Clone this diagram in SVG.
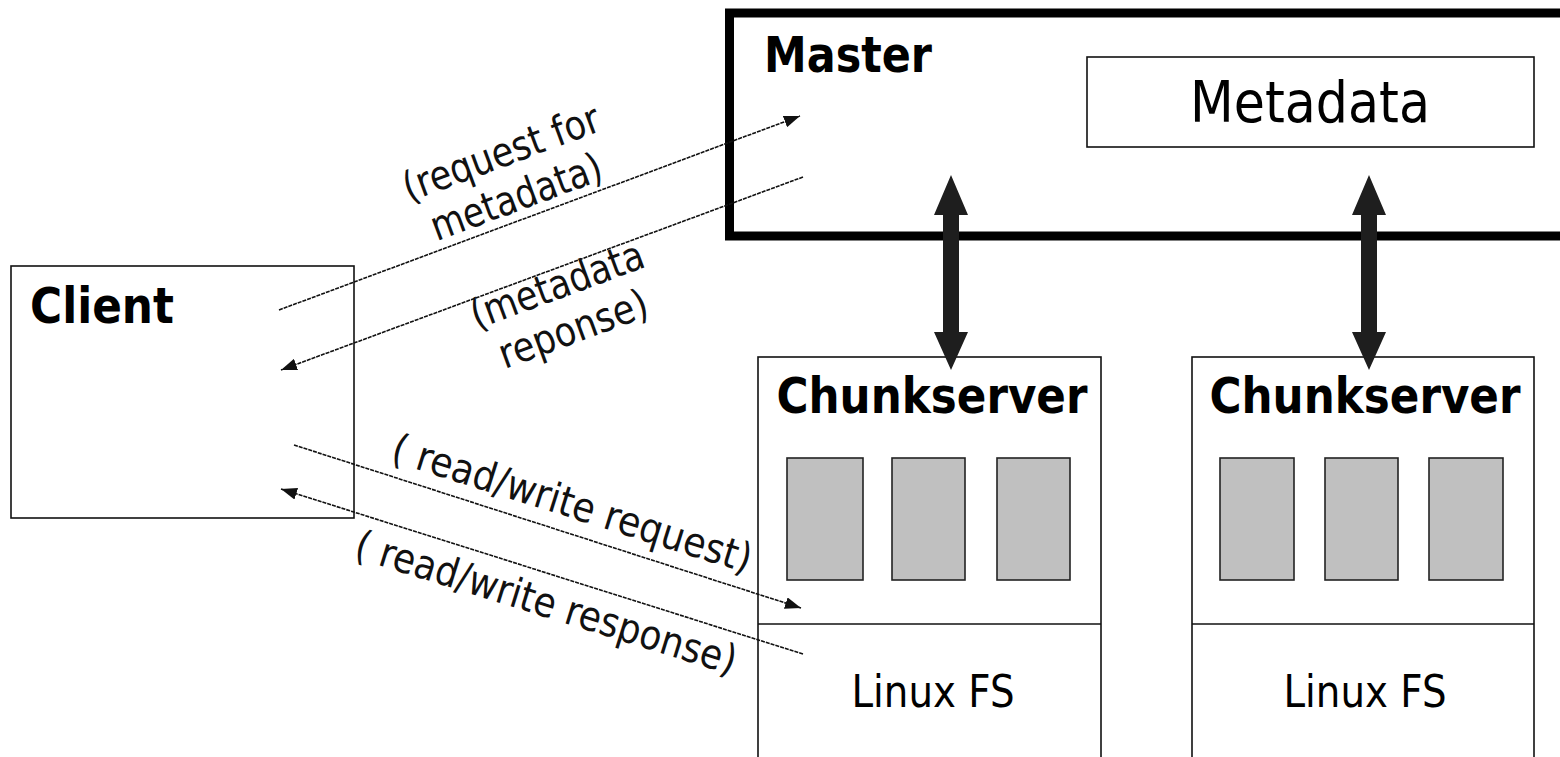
<svg xmlns="http://www.w3.org/2000/svg" width="1560" height="757" viewBox="0 0 1560 757">
  <style>
    .box { fill: #ffffff; stroke: #111111; stroke-width: 1.6; }
    .chunk { fill: #c0c0c0; stroke: #222222; stroke-width: 1.6; }
    .bold { font-family: "DejaVu Sans", "Liberation Sans", sans-serif; font-weight: bold; font-size: 50px; fill: #000000; }
    .reg { font-family: "DejaVu Sans", "Liberation Sans", sans-serif; fill: #000000; }
    .lbl { font-family: "DejaVu Sans", "Liberation Sans", sans-serif; font-size: 41px; fill: #111111; text-anchor: middle; }
    .thin { stroke: #111111; stroke-width: 1.6; stroke-dasharray: 4 1; fill: none; marker-end: url(#ah); }
    .thick { fill: #1e1e1e; stroke: none; }
  </style>
  <defs>
    <marker id="ah" markerUnits="userSpaceOnUse" markerWidth="18" markerHeight="12" refX="16" refY="6" orient="auto">
      <path d="M0,0 L16,6 L0,12 Z" fill="#111111"/>
    </marker>
  </defs>
  <rect width="1560" height="757" fill="#ffffff"/>

  <g id="client">
    <rect class="box" x="11" y="266" width="343" height="252"/>
    <text class="bold" x="30" y="323" textLength="144" lengthAdjust="spacingAndGlyphs">Client</text>
  </g>

  <g id="master">
    <rect x="729.5" y="13" width="850" height="223" fill="#ffffff" stroke="#000000" stroke-width="9"/>
    <text class="bold" x="764" y="72" textLength="168" lengthAdjust="spacingAndGlyphs">Master</text>
  </g>

  <g id="metadata">
    <rect class="box" x="1087" y="57" width="447" height="90"/>
    <text class="reg" x="1310" y="122" font-size="57" text-anchor="middle" textLength="240" lengthAdjust="spacingAndGlyphs">Metadata</text>
  </g>

  <g id="chunkserver1">
    <rect class="box" x="758" y="357" width="343" height="420"/>
    <line x1="758" y1="624" x2="1101" y2="624" stroke="#111111" stroke-width="1.6"/>
    <text class="bold" x="932" y="413" font-size="47" text-anchor="middle" textLength="311" lengthAdjust="spacingAndGlyphs">Chunkserver</text>
    <rect class="chunk" x="787" y="458" width="76" height="122"/>
    <rect class="chunk" x="892" y="458" width="73" height="122"/>
    <rect class="chunk" x="997" y="458" width="73" height="122"/>
    <text class="reg" x="933" y="707" font-size="44" text-anchor="middle" textLength="163" lengthAdjust="spacingAndGlyphs">Linux FS</text>
  </g>

  <g id="chunkserver2">
    <rect class="box" x="1192" y="357" width="342" height="420"/>
    <line x1="1192" y1="624" x2="1534" y2="624" stroke="#111111" stroke-width="1.6"/>
    <text class="bold" x="1365" y="413" font-size="47" text-anchor="middle" textLength="311" lengthAdjust="spacingAndGlyphs">Chunkserver</text>
    <rect class="chunk" x="1220" y="458" width="74" height="122"/>
    <rect class="chunk" x="1325" y="458" width="73" height="122"/>
    <rect class="chunk" x="1429" y="458" width="74" height="122"/>
    <text class="reg" x="1365" y="707" font-size="44" text-anchor="middle" textLength="163" lengthAdjust="spacingAndGlyphs">Linux FS</text>
  </g>

  <g id="connectors">
    <line class="thin" x1="279" y1="310" x2="800" y2="116"/>
    <line class="thin" x1="803" y1="177" x2="281" y2="370"/>
    <line class="thin" x1="294" y1="445" x2="801" y2="608"/>
    <line class="thin" x1="803" y1="654" x2="281" y2="489"/>
    <path class="thick" d="M951,175 L968,215 L959,215 L959,332 L968,332 L951,370 L934,332 L943,332 L943,215 L934,215 Z"/>
    <path class="thick" d="M1369,175 L1386,215 L1377,215 L1377,332 L1386,332 L1369,370 L1352,332 L1361,332 L1361,215 L1352,215 Z"/>
    <text class="lbl" transform="translate(506,166) rotate(-20.4)" textLength="207" lengthAdjust="spacingAndGlyphs">(request for</text>
    <text class="lbl" transform="translate(521,210) rotate(-20.4)" textLength="180" lengthAdjust="spacingAndGlyphs">metadata)</text>
    <text class="lbl" transform="translate(562,298) rotate(-20.3)" textLength="182" lengthAdjust="spacingAndGlyphs">(metadata</text>
    <text class="lbl" transform="translate(578,342) rotate(-20.3)" textLength="156" lengthAdjust="spacingAndGlyphs">reponse)</text>
    <text class="lbl" transform="translate(568,517) rotate(17.5)" textLength="375" lengthAdjust="spacingAndGlyphs">( read/write request)</text>
    <text class="lbl" transform="translate(542,616) rotate(17.3)" textLength="397" lengthAdjust="spacingAndGlyphs">( read/write response)</text>
  </g>
</svg>
